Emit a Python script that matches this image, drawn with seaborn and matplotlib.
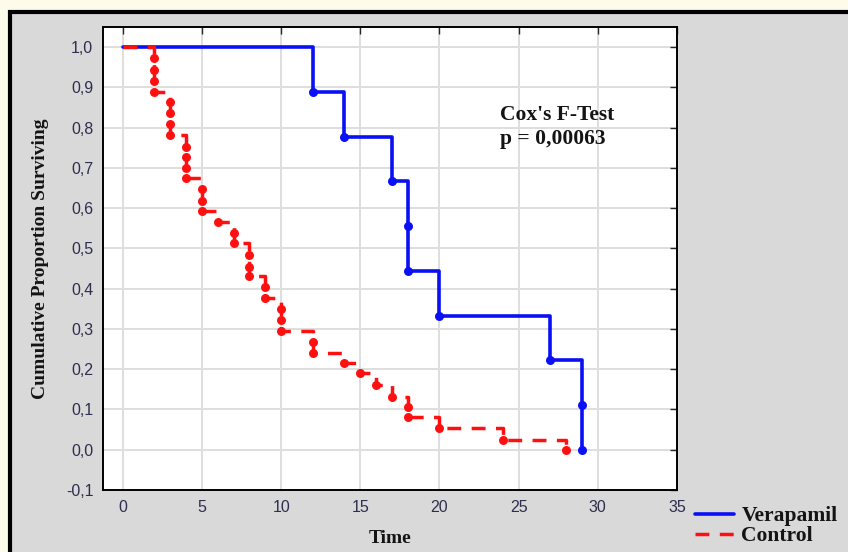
import numpy as np
import pandas as pd
import matplotlib.pyplot as plt
import matplotlib.ticker as mticker
from matplotlib.patches import Rectangle
import seaborn as sns

# -----------------------------
# DATA
# -----------------------------
verapamil_time = [12, 14, 17, 18, 18, 20, 27, 29, 29]
verapamil_surv = [0.889, 0.778, 0.667, 0.556, 0.444, 0.333, 0.222, 0.111, 0.0]

control_time = [2, 2, 2, 2, 3, 3, 3, 3, 4, 4, 4, 4, 5, 5, 5, 6, 7, 7,
                8, 8, 8, 9, 9, 10, 10, 10, 12, 12, 14, 15, 16, 17, 18, 18,
                20, 24, 28]
control_surv = [0.973, 0.943, 0.916, 0.888, 0.864, 0.836, 0.809, 0.782,
                0.752, 0.727, 0.700, 0.675, 0.648, 0.618, 0.592, 0.566,
                0.538, 0.514, 0.484, 0.455, 0.431, 0.405, 0.377, 0.350,
                0.322, 0.296, 0.268, 0.241, 0.216, 0.191, 0.161, 0.131,
                0.107, 0.082, 0.055, 0.025, 0.0]

x_ticks = [0, 5, 10, 15, 20, 25, 30, 35]
y_ticks = [-0.1, 0.0, 0.1, 0.2, 0.3, 0.4, 0.5, 0.6, 0.7, 0.8, 0.9, 1.0]

test_label = "Cox's F-Test\np = 0,00063"

# step curves start at time 0 with everyone alive
ver_df = pd.DataFrame({'time': [0] + verapamil_time,
                       'surv': [1.0] + verapamil_surv})
con_df = pd.DataFrame({'time': [0] + control_time,
                       'surv': [1.0] + control_surv})
ver_ev = pd.DataFrame({'time': verapamil_time, 'surv': verapamil_surv})
con_ev = pd.DataFrame({'time': control_time, 'surv': control_surv})

# -----------------------------
# FIGURE
# -----------------------------
sns.set_style('white')
serif = ['Liberation Serif', 'DejaVu Serif']
label_color = '#2e2e4e'

fig = plt.figure(figsize=(8.48, 5.52), dpi=100, facecolor='#fdfbea')
fig.patches.append(Rectangle((9.5 / 848, -0.01), 1.0, 1 - 11.5 / 552 + 0.01,
                             transform=fig.transFigure, facecolor='#d9d9d9',
                             edgecolor='black', linewidth=3, zorder=-10))

ax = fig.add_axes([103 / 848, 62 / 552, 574 / 848, 463 / 552])
ax.set_facecolor('white')

sns.lineplot(data=ver_df, x='time', y='surv', ax=ax, estimator=None,
             sort=False, drawstyle='steps-post', color='#0a10f5',
             linewidth=2.6, label='Verapamil', zorder=3)
sns.scatterplot(data=ver_ev, x='time', y='surv', ax=ax, color='#0a10f5',
                s=42, linewidth=0, zorder=4)

sns.lineplot(data=con_df, x='time', y='surv', ax=ax, estimator=None,
             sort=False, drawstyle='steps-post', color='#ff1010',
             linewidth=2.5, label='Control', zorder=5)
ax.lines[-1].set_linestyle((0, (4.0, 3.0)))
sns.scatterplot(data=con_ev, x='time', y='surv', ax=ax, color='#ff1010',
                s=42, linewidth=0, zorder=6)

ax.set_xlim(-1.25, 35)
ax.set_ylim(-0.1, 1.05)
ax.set_xticks(x_ticks)
ax.set_yticks(y_ticks)
ax.yaxis.set_major_formatter(
    mticker.FuncFormatter(lambda v, p: f"{v:.1f}".replace('.', ',')))

ax.grid(True, color='#dedede', linewidth=1.4)
ax.set_axisbelow(True)
for side in ax.spines.values():
    side.set_color('black')
    side.set_linewidth(1.4)

ax.tick_params(direction='in', top=True, right=True, length=5, width=1,
               pad=7, labelsize=11.5, labelcolor=label_color)
for lab in ax.get_xticklabels() + ax.get_yticklabels():
    lab.set_family(['Liberation Sans', 'DejaVu Sans'])

ax.set_xlabel('Time', family=serif, fontweight='bold', fontsize=14,
              color='#141414', labelpad=11)
ax.set_ylabel('Cumulative Proportion Surviving', family=serif,
              fontweight='bold', fontsize=14, color='#141414', labelpad=12)

ax.text(23.85, 0.856, test_label, family=serif, fontweight='bold',
        fontsize=15.5, color='#141414', va='top', ha='left', linespacing=1.27)

handles, labels = ax.get_legend_handles_labels()
ax.get_legend().remove()
fig.legend(handles, labels, loc='upper left',
           bbox_to_anchor=(680 / 848, 1 - 491 / 552), frameon=False,
           prop={'family': serif, 'weight': 'bold', 'size': 15.5},
           handlelength=1.8, handletextpad=0.35, labelspacing=0.0,
           borderpad=0.2)
for t in fig.legends[0].get_texts():
    t.set_color('#141414')

fig.savefig('out.png', dpi=100, facecolor=fig.get_facecolor())
